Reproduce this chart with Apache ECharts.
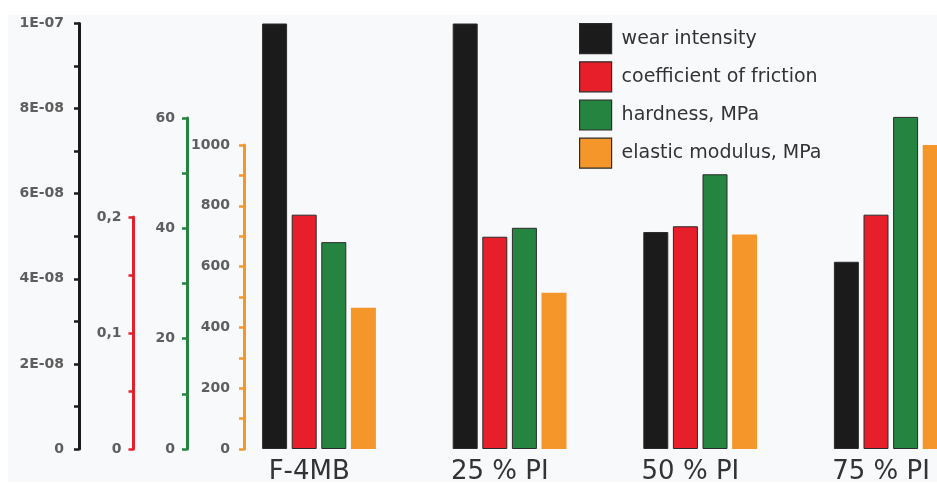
<!DOCTYPE html>
<html>
<head>
<meta charset="utf-8">
<script src="https://cdn.jsdelivr.net/npm/echarts@6/dist/echarts.min.js"></script>
<style>
  html, body { margin: 0; padding: 0; background: #ffffff; overflow: hidden; }
  #chart { width: 937px; height: 485px; }
</style>
</head>
<body>
<div id="chart"></div>
<script>
// Samples and measured properties
const categories = ['F-4MB', '25 % PI', '50 % PI', '75 % PI'];
const wearIntensity = [1e-7, 1e-7, 5.1e-8, 4.4e-8];
const frictionCoef = [0.202, 0.183, 0.192, 0.202];
const hardness = [37.5, 40.1, 49.8, 60.2];
const elasticModulus = [465, 514, 706, 1000];

// Axis tick labels (every second tick is labelled)
const wearTicks = ['0', '2E-08', '4E-08', '6E-08', '8E-08', '1E-07'];
const frictionTicks = ['0', '0,1', '0,2'];
const hardnessTicks = ['0', '20', '40', '60'];
const modulusTicks = ['0', '200', '400', '600', '800', '1000'];

const seriesNames = ['wear intensity', 'coefficient of friction', 'hardness, MPa', 'elastic modulus, MPa'];
const colors = ['#1b1b1b', '#e61f2b', '#258540', '#f4962a'];

// Layout: each quantity gets its own grid (own vertical scale) sharing the
// category positions; bars are placed on the category points (no boundary gap).
const firstCenter = 319;
const categoryStep = 190.6;
const barPitch = 29.6;
const axisX = [79, 133.5, 187, 244];
const gridTop = [23.5, 217, 118, 145];
const gridBottom = 36;

const scales = [
  { max: 1e-7, interval: 1e-8, ticks: wearTicks, margin: 15 },
  { max: 0.2, interval: 0.05, ticks: frictionTicks, margin: 12 },
  { max: 60, interval: 10, ticks: hardnessTicks, margin: 12 },
  { max: 1000, interval: 100, ticks: modulusTicks, margin: 14 }
];
const seriesData = [wearIntensity, frictionCoef, hardness, elasticModulus];

const grids = [], xAxes = [], yAxes = [], series = [];
for (let k = 0; k < 4; k++) {
  const left = firstCenter + (k - 1.5) * barPitch;
  grids.push({ left: left, top: gridTop[k], width: categoryStep * (categories.length - 1), bottom: gridBottom });
  xAxes.push({
    gridIndex: k,
    type: 'category',
    boundaryGap: false,
    data: categories,
    axisLine: { show: false },
    axisTick: { show: false },
    splitLine: { show: false },
    axisLabel: k === 1 ? {
      show: true,
      margin: 10,
      fontSize: 26,
      fontFamily: 'DejaVu Sans',
      color: '#333333',
      padding: [0, 0, 0, 10]
    } : { show: false }
  });
  const sc = scales[k];
  yAxes.push({
    gridIndex: k,
    type: 'value',
    position: 'left',
    offset: left - axisX[k],
    min: 0,
    max: sc.max,
    interval: sc.interval,
    splitLine: { show: false },
    axisLine: { show: true, lineStyle: { color: colors[k], width: 3 } },
    axisTick: { show: true, length: 5, lineStyle: { color: colors[k], width: 2.5 } },
    axisLabel: {
      margin: sc.margin,
      color: '#5e5e5e',
      fontSize: 14,
      fontWeight: 'bold',
      fontFamily: 'DejaVu Sans',
      formatter: function (v) {
        const i = Math.round(v / sc.interval);
        return i % 2 === 0 ? (sc.ticks[i / 2] || '') : '';
      }
    }
  });
  series.push({
    name: seriesNames[k],
    type: 'bar',
    xAxisIndex: k,
    yAxisIndex: k,
    data: seriesData[k],
    barWidth: 25,
    clip: false,
    itemStyle: {
      color: colors[k],
      borderColor: k === 3 ? colors[k] : '#2b2b2b',
      borderWidth: k === 3 ? 0 : 1
    }
  });
}

const chart = echarts.init(document.getElementById('chart'), null, { renderer: 'canvas' });
chart.setOption({
  animation: false,
  backgroundColor: '#ffffff',
  graphic: [{
    type: 'rect',
    z: -100,
    silent: true,
    shape: { x: 8, y: 15, width: 929, height: 467 },
    style: { fill: '#f8f9fb' }
  }],
  legend: {
    orient: 'vertical',
    left: 574,
    top: 18,
    itemWidth: 32,
    itemHeight: 30,
    itemGap: 7,
    icon: 'rect',
    data: seriesNames,
    itemStyle: { borderColor: '#2b2b2b', borderWidth: 1.2 },
    textStyle: {
      fontSize: 19,
      fontFamily: 'DejaVu Sans',
      color: '#333333',
      padding: [0, 0, 0, 5]
    }
  },
  grid: grids,
  xAxis: xAxes,
  yAxis: yAxes,
  series: series
});
</script>
</body>
</html>
